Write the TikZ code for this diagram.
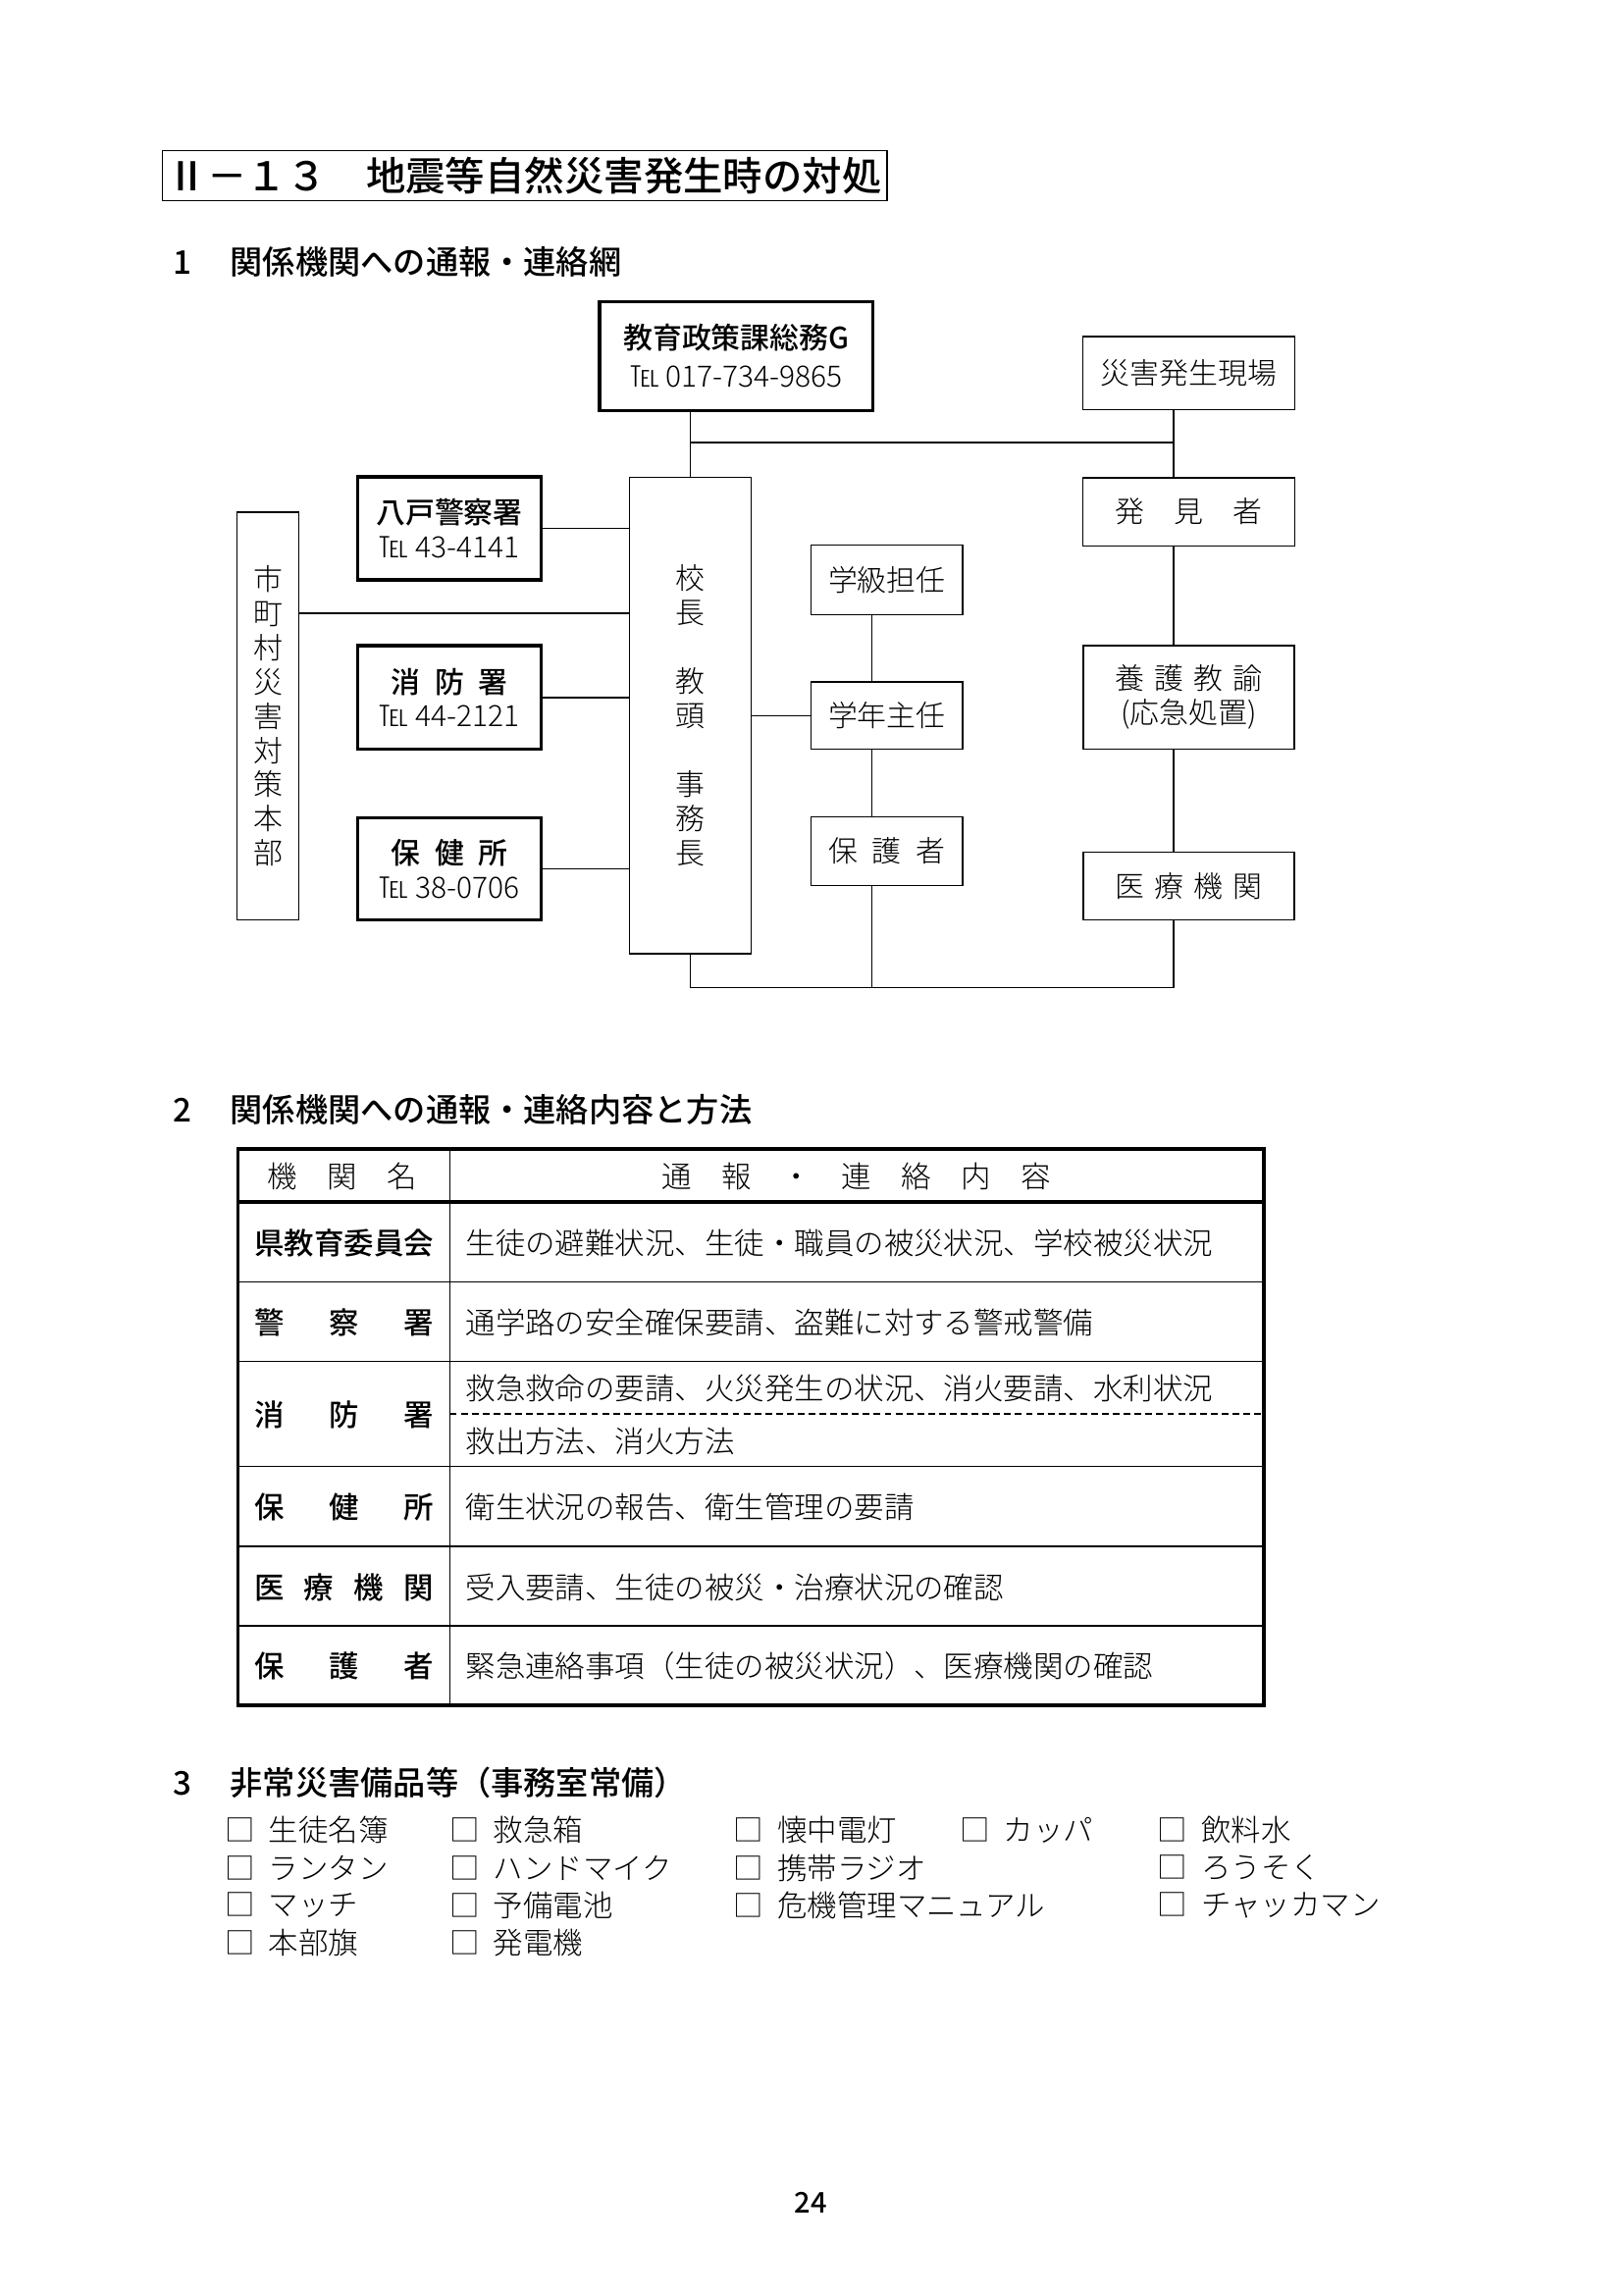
\documentclass[tikz,border=0pt]{standalone}
\usepackage{fontspec}
\IfFontExistsTF{Noto Sans CJK JP Light}
  {\setmainfont{Noto Sans CJK JP Light}
   \IfFontExistsTF{Noto Sans CJK JP Medium}
     {\newfontfamily\gothic{Noto Sans CJK JP Medium}}
     {\newfontfamily\gothic{Noto Sans CJK JP}}}
  {\setmainfont{Noto Sans CJK JP}\newcommand{\gothic}{\bfseries}}
\usetikzlibrary{positioning,calc}
\newcommand{\upx}{0.018936cm}
\newcommand{\secno}[1]{\makebox[21pt][l]{#1}}
\newcommand{\chk}[1]{\makebox[16pt][l]{□}#1}
\newcommand{\spread}[1]{\makebox[65.9pt][s]{#1}}

\begin{document}
\begin{tikzpicture}[
  x=\upx, y=-\upx,
  box/.style={draw, line width=0.5pt, inner sep=0pt, align=center,
              font=\fontsize{10.8}{12.6}\selectfont},
  thickbox/.style={box, line width=1.2pt},
  link/.style={line width=0.6pt},
  rule/.style={line width=0.5pt},
  frame/.style={line width=1.3pt},
  head/.style={anchor=west, inner sep=0pt, font=\fontsize{12}{14}\selectfont\gothic},
  cell/.style={anchor=west, inner sep=0pt, font=\fontsize{11}{13}\selectfont},
  org/.style={cell, font=\fontsize{11}{13}\selectfont\gothic},
  item/.style={anchor=west, inner sep=0pt, font=\fontsize{11}{12}\selectfont}
]
\useasboundingbox (0,0) rectangle (1109,1568);

\node[box, font=\fontsize{14.6}{16}\selectfont\gothic, line width=0.6pt,
      minimum width=495*\upx, minimum height=34*\upx] (title) at (358.5,120)
      {Ⅱ－１３　地震等自然災害発生時の対処};

% 1 network
\node[head] (sec1) at (118,179) {\secno{1}関係機関への通報・連絡網};

\node[thickbox, font=\fontsize{10.8}{14}\selectfont, minimum width=187*\upx, minimum height=74.5*\upx]
  (kyoiku) at (503,243.2) {{\gothic 教育政策課総務G}\\℡ 017-734-9865};
\node[box, minimum width=144.8*\upx, minimum height=50*\upx] (genba) at (812.2,255) {災害発生現場};
\node[box, minimum width=144.8*\upx, minimum height=46.7*\upx] (hakken) at (812.2,349.7) {発　見　者};
\node[box, font=\fontsize{10.8}{12.65}\selectfont, minimum width=83*\upx, minimum height=325.2*\upx]
  (kocho) at (471.7,488.9) {校\\長\\[12.65pt]教\\頭\\[12.65pt]事\\務\\長};
\node[box, font=\fontsize{10.8}{12.6}\selectfont, minimum width=42*\upx, minimum height=278.4*\upx]
  (shi) at (183,489.2) {市\\町\\村\\災\\害\\対\\策\\本\\部};

\node[thickbox, minimum width=125*\upx, minimum height=70.2*\upx] (hachinohe) at (307,361)
  {{\gothic 八戸警察署}\\℡ 43-4141};
\node[thickbox, minimum width=125*\upx, minimum height=71*\upx] (shobo) at (307,476.5)
  {{\gothic 消\hspace{0.5em}防\hspace{0.5em}署}\\℡ 44-2121};
\node[thickbox, minimum width=125*\upx, minimum height=69.7*\upx] (hoken) at (307,593.5)
  {{\gothic 保\hspace{0.5em}健\hspace{0.5em}所}\\℡ 38-0706};

\node[box, minimum width=103.7*\upx, minimum height=47.5*\upx] (gakkyu) at (605.9,396.2) {学級担任};
\node[box, minimum width=103.7*\upx, minimum height=46*\upx] (gakunen) at (605.9,489) {学年主任};
\node[box, minimum width=103.7*\upx, minimum height=47*\upx] (hogosha) at (605.9,581.5)
  {保\hspace{0.5em}護\hspace{0.5em}者};
\node[box, minimum width=144.2*\upx, minimum height=71*\upx] (yogo) at (812.1,476.5)
  {養\hspace{0.33em}護\hspace{0.33em}教\hspace{0.33em}諭\\(応急処置)};
\node[box, minimum width=144.2*\upx, minimum height=46.2*\upx] (iryo) at (812.1,605.3)
  {医\hspace{0.33em}療\hspace{0.33em}機\hspace{0.33em}関};

\coordinate (trunkR) at (801.7,302.5);
\coordinate (trunkM) at (595.6,674.7);
\coordinate (linkS) at (204,419);

\draw[link] (kyoiku.south -| kocho.north) -- (kocho.north);
\draw[link] (trunkR -| kocho.north) -- (trunkR);
\draw[link] (genba.south -| trunkR) -- (hakken.north -| trunkR);
\draw[link] (hakken.south -| trunkR) -- (yogo.north -| trunkR);
\draw[link] (yogo.south -| trunkR) -- (iryo.north -| trunkR);
\draw[link] (kocho.south) |- (trunkM -| trunkR) -- (iryo.south -| trunkR);
\draw[link] (gakkyu.south -| trunkM) -- (gakunen.north -| trunkM);
\draw[link] (gakunen.south -| trunkM) -- (hogosha.north -| trunkM);
\draw[link] (hogosha.south -| trunkM) -- (trunkM);
\draw[link] (kocho.east |- gakunen.west) -- (gakunen.west);
\draw[link] (hachinohe.east) -- (hachinohe.east -| kocho.west);
\draw[link] (shi.east |- linkS) -- (kocho.west |- linkS);
\draw[link] (shobo.east) -- (shobo.east -| kocho.west);
\draw[link] (hoken.east) -- (hoken.east -| kocho.west);

% 2 table
\node[head] (sec2) at (118,758) {\secno{2}関係機関への通報・連絡内容と方法};

\draw[rule] (307.4,785) -- (307.4,1165);
\draw[rule] (162.5,876) -- (863.4,876);
\draw[rule] (162.5,930) -- (863.4,930);
\draw[rule] (162.5,1002) -- (863.4,1002);
\draw[rule] (162.5,1056.4) -- (863.4,1056.4);
\draw[rule] (162.5,1110.7) -- (863.4,1110.7);
\draw[rule, dash pattern=on 2.5pt off 1.5pt] (307.4,966) -- (863.4,966);
\draw[frame] (162.5,821) -- (863.4,821);
\draw[frame] (162.5,785) rectangle (863.4,1165);

\node[cell, anchor=center] (hdrA) at (234,804) {機　関　名};
\node[cell, anchor=center] (hdrB) at (585,804) {通　報　・　連　絡　内　容};

\node[org] (orgA) at (173.4,849) {\spread{県教育委員会}};
\node[org] (orgB) at (173.4,903.5) {\spread{警\hfill 察\hfill 署}};
\node[org] (orgC) at (173.4,966.5) {\spread{消\hfill 防\hfill 署}};
\node[org] (orgD) at (173.4,1030) {\spread{保\hfill 健\hfill 所}};
\node[org] (orgE) at (173.4,1084.5) {\spread{医\hfill 療\hfill 機\hfill 関}};
\node[org] (orgF) at (173.4,1138.5) {\spread{保\hfill 護\hfill 者}};

\node[cell] (msgA) at (317.8,849) {生徒の避難状況、生徒・職員の被災状況、学校被災状況};
\node[cell] (msgB) at (317.8,903.5) {通学路の安全確保要請、盗難に対する警戒警備};
\node[cell] (msgC) at (317.8,948.7) {救急救命の要請、火災発生の状況、消火要請、水利状況};
\node[cell] (msgC2) at (317.8,984.4) {救出方法、消火方法};
\node[cell] (msgD) at (317.8,1030) {衛生状況の報告、衛生管理の要請};
\node[cell] (msgE) at (317.8,1084.5) {受入要請、生徒の被災・治療状況の確認};
\node[cell] (msgF) at (317.8,1138.5) {緊急連絡事項（生徒の被災状況）、医療機関の確認};

% 3 stock
\node[head] (sec3) at (118,1218) {\secno{3}非常災害備品等（事務室常備）};

\node[item] (itemA1) at (153.5,1250.4) {\chk{生徒名簿}};
\node[item] (itemA2) at (307,1250.4) {\chk{救急箱}};
\node[item] (itemA3) at (501,1250.4) {\chk{懐中電灯}};
\node[item] (itemA4) at (655.5,1250.4) {\chk{カッパ}};
\node[item] (itemA5) at (790.6,1250.4) {\chk{飲料水}};
\node[item] (itemB1) at (153.5,1276.1) {\chk{ランタン}};
\node[item] (itemB2) at (307,1276.1) {\chk{ハンドマイク}};
\node[item] (itemB3) at (501,1276.1) {\chk{携帯ラジオ}};
\node[item] (itemB5) at (790.6,1276.1) {\chk{ろうそく}};
\node[item] (itemC1) at (153.5,1301.8) {\chk{マッチ}};
\node[item] (itemC2) at (307,1301.8) {\chk{予備電池}};
\node[item] (itemC3) at (501,1301.8) {\chk{危機管理マニュアル}};
\node[item] (itemC5) at (790.6,1301.8) {\chk{チャッカマン}};
\node[item] (itemD1) at (153.5,1327.5) {\chk{本部旗}};
\node[item] (itemD2) at (307,1327.5) {\chk{発電機}};

\node[font=\fontsize{10.5}{12}\selectfont\gothic] (pageno) at (554,1505) {24};
\end{tikzpicture}
\end{document}
